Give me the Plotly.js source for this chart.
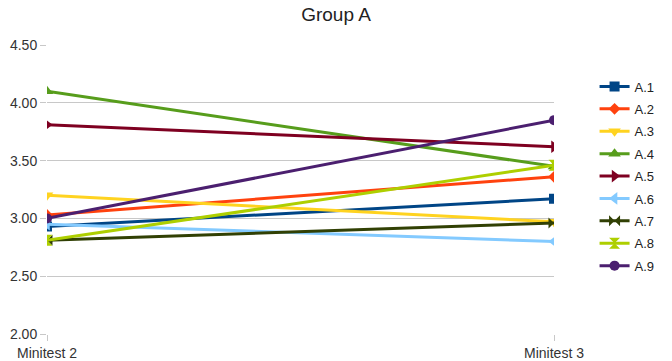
<!DOCTYPE html>
<html><head><meta charset="utf-8">
<script src="https://cdn.plot.ly/plotly-3.0.1.min.js"></script>
<style>html,body{margin:0;padding:0;background:#fff}#c{width:672px;height:361px}</style>
</head><body><div id="c"></div>
<script>
const categories = ["Minitest 2", "Minitest 3"];
const seriesNames = ["A.1","A.2","A.3","A.4","A.5","A.6","A.7","A.8","A.9"];
const A1 = [2.93, 3.17];
const A2 = [3.03, 3.36];
const A3 = [3.20, 2.97];
const A4 = [4.10, 3.45];
const A5 = [3.81, 3.62];
const A6 = [2.95, 2.80];
const A7 = [2.81, 2.96];
const A8 = [2.81, 3.46];
const A9 = [3.00, 3.85];
const seriesValues = [A1,A2,A3,A4,A5,A6,A7,A8,A9];
const yTicks = [2.0, 2.5, 3.0, 3.5, 4.0, 4.5];

const colors = ["#004586","#ff420e","#ffd320","#579d1c","#7e0021","#83caff","#314004","#aecf00","#4b1f6f"];
const symbols = ["square","diamond","triangle-down","triangle-up","triangle-right","triangle-left","bowtie","hourglass","circle"];
const sizes = [10,9,11,11,11,11,11,11,10];

const xIdx = categories.map((c,i)=>i);
const traces = seriesNames.map((n,i)=>({
  type:"scatter", mode:"lines+markers", name:n, legendgroup:n,
  x:xIdx, y:seriesValues[i],
  line:{color:colors[i], width:3},
  marker:{symbol:symbols[i], color:colors[i], size:sizes[i], line:{width:0}}
}));

const layout = {
  width:672, height:361,
  paper_bgcolor:"#fff", plot_bgcolor:"#fff",
  margin:{l:47, r:115, t:45, b:27},
  title:{text:"Group A", x:0.5, xanchor:"center", y:0.96, yanchor:"middle",
         font:{family:"Liberation Sans, Arial, sans-serif", size:19, color:"#222"}},
  font:{family:"Liberation Sans, Arial, sans-serif", size:14, color:"#333"},
  xaxis:{range:[0,1], tickvals:xIdx, ticktext:categories, showgrid:true, gridcolor:"#c8c8c8", gridwidth:1,
         zeroline:false, showline:false, ticks:"outside", ticklen:6, tickcolor:"#c8c8c8", fixedrange:true,
         tickfont:{size:14, color:"#333"}},
  yaxis:{range:[2,4.5], tickvals:yTicks, tickformat:".2f", showgrid:true, gridcolor:"#c8c8c8", gridwidth:1,
         zeroline:false, showline:false, ticks:"outside", ticklen:6, tickcolor:"#c8c8c8",
         tickfont:{size:14, color:"#333"}},
  legend:{x:1.08, xanchor:"left", y:0.545, yanchor:"middle", font:{size:13, color:"#222"},
          itemwidth:30, traceorder:"grouped", tracegroupgap:2.5, borderwidth:0, bgcolor:"rgba(0,0,0,0)"},
  showlegend:true
};
Plotly.newPlot("c", traces, layout, {displayModeBar:false, staticPlot:true});
</script></body></html>
